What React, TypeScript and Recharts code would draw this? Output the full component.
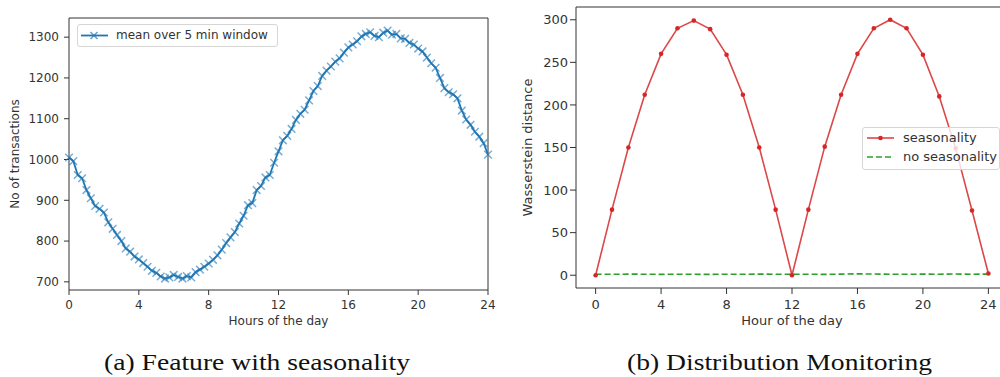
import { LineChart, Line, XAxis, YAxis, ReferenceLine, Legend, Label } from 'recharts'

// (a) mean transactions, one reading every 15 minutes
const FINE_HOURS = [
  0, 0.25, 0.5, 0.75, 1, 1.25, 1.5, 1.75, 2, 2.25, 2.5, 2.75, 3, 3.25, 3.5, 3.75,
  4, 4.25, 4.5, 4.75, 5, 5.25, 5.5, 5.75, 6, 6.25, 6.5, 6.75, 7, 7.25, 7.5, 7.75,
  8, 8.25, 8.5, 8.75, 9, 9.25, 9.5, 9.75, 10, 10.25, 10.5, 10.75, 11, 11.25, 11.5, 11.75,
  12, 12.25, 12.5, 12.75, 13, 13.25, 13.5, 13.75, 14, 14.25, 14.5, 14.75, 15, 15.25, 15.5, 15.75,
  16, 16.25, 16.5, 16.75, 17, 17.25, 17.5, 17.75, 18, 18.25, 18.5, 18.75, 19, 19.25, 19.5, 19.75,
  20, 20.25, 20.5, 20.75, 21, 21.25, 21.5, 21.75, 22, 22.25, 22.5, 22.75, 23, 23.25, 23.5, 23.75, 24,
]
const TRANSACTIONS = [
  1005, 996, 962, 954, 925, 905, 886, 879, 870, 846, 830, 815, 800, 782, 774, 762,
  755, 746, 737, 727, 722, 713, 708, 711, 717, 712, 708, 714, 711, 724, 730, 737,
  745, 754, 765, 779, 795, 809, 822, 843, 862, 888, 893, 925, 935, 956, 962, 992,
  1020, 1047, 1058, 1075, 1097, 1112, 1122, 1145, 1168, 1180, 1205, 1218, 1228, 1240, 1248, 1262,
  1275, 1282, 1290, 1302, 1308, 1312, 1303, 1300, 1311, 1316, 1306, 1308, 1297, 1296, 1286, 1282,
  1272, 1265, 1250, 1236, 1225, 1200, 1175, 1165, 1160, 1150, 1120, 1098, 1085, 1068, 1056, 1040, 1012,
]

// (b) hourly Wasserstein distance
const HOURS = [0, 1, 2, 3, 4, 5, 6, 7, 8, 9, 10, 11, 12, 13, 14, 15, 16, 17, 18, 19, 20, 21, 22, 23, 24]
const SEASONALITY = [
  0, 77, 150, 212, 260, 290, 299, 289, 259, 212, 150, 77, 0,
  77, 151, 212, 260, 290, 300, 290, 259, 210, 149, 76, 2,
]
const NO_SEASONALITY = [
  1.2, 1.1, 1.3, 1.2, 1.0, 1.2, 1.1, 1.0, 1.2, 1.1, 1.3, 1.2, 1.1,
  1.2, 1.0, 1.3, 1.6, 1.4, 1.2, 1.1, 1.3, 1.2, 1.4, 1.2, 1.3,
]

const HOUR_TICKS = [0, 4, 8, 12, 16, 20, 24]
const TRANSACTION_TICKS = [700, 800, 900, 1000, 1100, 1200, 1300]
const DISTANCE_TICKS = [0, 50, 100, 150, 200, 250, 300]

const BLUE = '#1f77b4'
const RED = '#d62728'
const GREEN = '#2ca02c'
const INK = '#333'
const FONT = '"DejaVu Sans", sans-serif'

const leftData = FINE_HOURS.map((hour, i) => ({ hour, mean: TRANSACTIONS[i] }))
const rightData = HOURS.map((hour, i) => ({
  hour,
  seasonality: SEASONALITY[i],
  noSeasonality: NO_SEASONALITY[i],
}))

const Cross = (props: any) => {
  const { cx, cy, index } = props
  const r = 3.8
  return (
    <path
      key={`x-${index}`}
      d={`M${cx - r},${cy - r}L${cx + r},${cy + r}M${cx - r},${cy + r}L${cx + r},${cy - r}`}
      stroke={BLUE}
      strokeOpacity={0.6}
      strokeWidth={1.5}
    />
  )
}

const legendBox = {
  border: '1px solid #d6d6d6',
  borderRadius: 3,
  background: 'rgba(255,255,255,0.8)',
  boxSizing: 'border-box' as const,
}

function LeftLegend() {
  return (
    <div style={{ ...legendBox, width: 201, height: 23, position: 'relative' }}>
      <svg width={40} height={21} style={{ position: 'absolute', left: 0, top: 0 }}>
        <line x1={3} y1={10.5} x2={30} y2={10.5} stroke={BLUE} strokeWidth={1.8} />
        <path d="M12.5,7L19.5,14M12.5,14L19.5,7" stroke={BLUE} strokeOpacity={0.7} strokeWidth={1.5} />
      </svg>
      <span style={{ position: 'absolute', left: 38, top: 3, fontSize: 12, fontFamily: FONT, color: INK, lineHeight: '15px', whiteSpace: 'nowrap' }}>
        mean over 5 min window
      </span>
    </div>
  )
}

function RightLegend() {
  return (
    <div style={{ ...legendBox, width: 138, height: 43, position: 'relative' }}>
      <svg width={40} height={41} style={{ position: 'absolute', left: 0, top: 0 }}>
        <line x1={4} y1={10} x2={31} y2={10} stroke={RED} strokeOpacity={0.85} strokeWidth={1.6} />
        <circle cx={17.5} cy={10} r={2.3} fill={RED} />
        <line x1={4} y1={29} x2={31} y2={29} stroke={GREEN} strokeWidth={1.6} strokeDasharray="6 3" />
      </svg>
      <span style={{ position: 'absolute', left: 40, top: 2, fontSize: 13, fontFamily: FONT, color: INK, lineHeight: '16px', whiteSpace: 'nowrap' }}>
        seasonality
      </span>
      <span style={{ position: 'absolute', left: 40, top: 21, fontSize: 13, fontFamily: FONT, color: INK, lineHeight: '16px', whiteSpace: 'nowrap' }}>
        no seasonality
      </span>
    </div>
  )
}

export default function App() {
  const tickLeft = { fill: INK, fontSize: 12, fontFamily: FONT }
  const tickRight = { fill: INK, fontSize: 13, fontFamily: FONT }
  return (
    <div style={{ position: 'absolute', left: 0, top: 0, width: 1000, height: 377, overflow: 'hidden', background: '#fff' }}>
      {/* (a) Feature with seasonality */}
      <div style={{ position: 'absolute', left: 0, top: 0 }}>
        <LineChart width={500} height={330} data={leftData} margin={{ top: 18, right: 12, bottom: 0, left: 0 }}>
          <XAxis
            dataKey="hour"
            type="number"
            domain={[0, 24]}
            ticks={HOUR_TICKS}
            height={40}
            tickSize={5}
            tickMargin={5}
            tick={tickLeft}
            axisLine={{ stroke: INK }}
            tickLine={{ stroke: INK }}
          >
            <Label value="Hours of the day" position="insideBottom" offset={5} style={{ fill: INK, fontSize: 12, fontFamily: FONT }} />
          </XAxis>
          <YAxis
            type="number"
            domain={[680, 1347]}
            allowDataOverflow
            ticks={TRANSACTION_TICKS}
            width={69}
            tickSize={5}
            tickMargin={5}
            tick={tickLeft}
            axisLine={{ stroke: INK }}
            tickLine={{ stroke: INK }}
          >
            <Label value="No of transactions" angle={-90} position="insideLeft" offset={15} style={{ fill: INK, fontSize: 12, fontFamily: FONT, textAnchor: 'middle' }} />
          </YAxis>
          <ReferenceLine y={1347} stroke={INK} />
          <ReferenceLine x={24} stroke={INK} />
          <Line
            dataKey="mean"
            name="mean over 5 min window"
            stroke={BLUE}
            strokeWidth={1.8}
            dot={Cross}
            activeDot={false}
            isAnimationActive={false}
          />
          <Legend
            layout="horizontal"
            align="center"
            verticalAlign="middle"
            content={() => <LeftLegend />}
            wrapperStyle={{ left: 77, top: 24, width: 'auto', height: 'auto' }}
          />
        </LineChart>
      </div>

      {/* (b) Distribution Monitoring */}
      <div style={{ position: 'absolute', left: 500, top: 0 }}>
        <LineChart width={520} height={328} data={rightData} margin={{ top: 7, right: 12, bottom: 0, left: 0 }}>
          <XAxis
            dataKey="hour"
            type="number"
            domain={[-1.2, 25.2]}
            allowDataOverflow
            ticks={HOUR_TICKS}
            height={40}
            tickSize={6}
            tickMargin={6}
            tick={tickRight}
            axisLine={{ stroke: INK }}
            tickLine={{ stroke: INK }}
          >
            <Label value="Hour of the day" position="insideBottom" offset={3} style={{ fill: INK, fontSize: 13, fontFamily: FONT }} />
          </XAxis>
          <YAxis
            type="number"
            domain={[-15, 315]}
            allowDataOverflow
            ticks={DISTANCE_TICKS}
            width={76}
            tickSize={6}
            tickMargin={2}
            tick={tickRight}
            axisLine={{ stroke: INK }}
            tickLine={{ stroke: INK }}
          >
            <Label value="Wasserstein distance" angle={-90} position="insideLeft" offset={27} style={{ fill: INK, fontSize: 13, fontFamily: FONT, textAnchor: 'middle' }} />
          </YAxis>
          <ReferenceLine y={315} stroke={INK} />
          <Line
            dataKey="seasonality"
            name="seasonality"
            stroke={RED}
            strokeOpacity={0.85}
            strokeWidth={1.6}
            dot={{ r: 2.3, fill: RED, stroke: 'none' }}
            activeDot={false}
            isAnimationActive={false}
          />
          <Line
            dataKey="noSeasonality"
            name="no seasonality"
            stroke={GREEN}
            strokeWidth={1.6}
            strokeDasharray="6 3"
            dot={false}
            activeDot={false}
            isAnimationActive={false}
          />
          <Legend
            layout="horizontal"
            align="center"
            verticalAlign="middle"
            content={() => <RightLegend />}
            wrapperStyle={{ left: 362, top: 127, width: 'auto', height: 'auto' }}
          />
        </LineChart>
      </div>

      {/* captions */}
      <svg width={1000} height={377} style={{ position: 'absolute', left: 0, top: 0, pointerEvents: 'none' }}>
        <text x={104} y={370} fontFamily='"Liberation Serif", serif' fontSize={24} fill="#111" textLength={306} lengthAdjust="spacingAndGlyphs">
          (a) Feature with seasonality
        </text>
        <text x={627} y={370} fontFamily='"Liberation Serif", serif' fontSize={24} fill="#111" textLength={305} lengthAdjust="spacingAndGlyphs">
          (b) Distribution Monitoring
        </text>
      </svg>
    </div>
  )
}
